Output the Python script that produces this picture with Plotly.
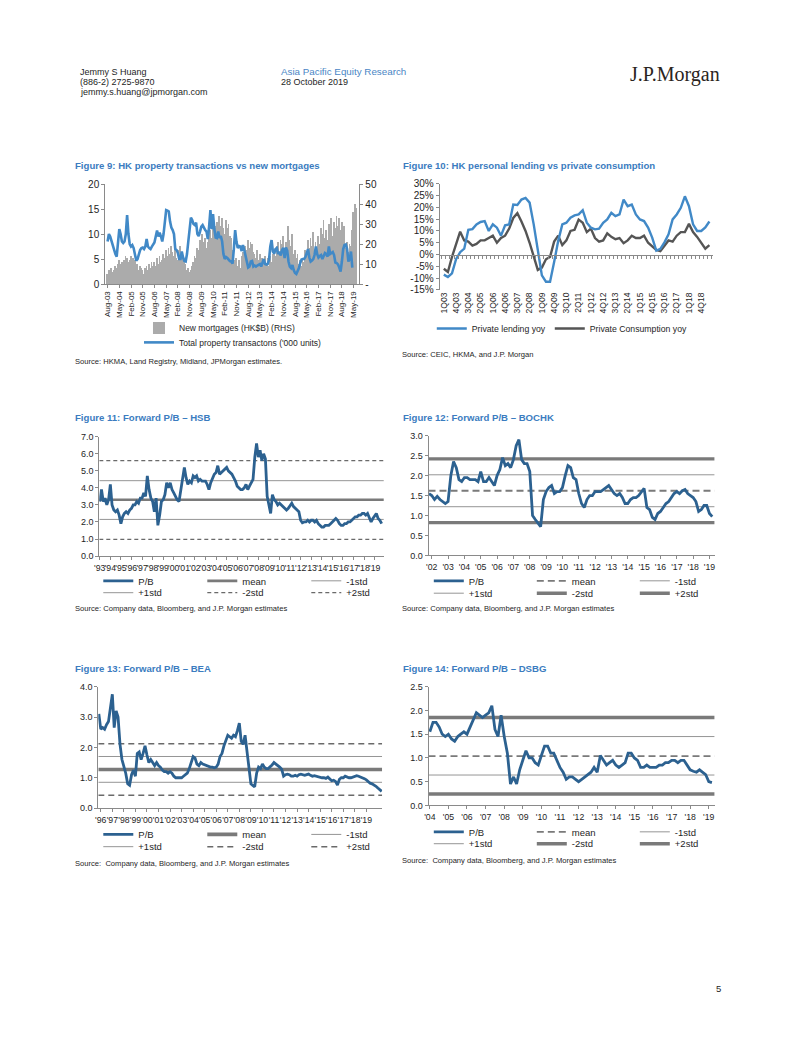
import numpy as np
import pandas as pd
import plotly.graph_objects as go

W, H = 802, 1037
FONT = "Liberation Sans, Arial, Helvetica, sans-serif"
SERIF = "Liberation Serif, Times New Roman, serif"
TXT = "#1e1e1e"
AX = "#8a8a8a"
TITLE_BLUE = "#3b7cc0"
PB_BLUE = "#2c6190"
LINE_BLUE = "#4189c7"
DARK = "#555555"

# ---------------- Figure 9 data (monthly, from Aug-03) ----------------
fig9_start = "2003-08-01"
new_mortgages = [
    5, 7, 6, 8, 6, 7, 9, 8, 10,
    12, 10, 11, 9, 12, 14, 13, 11, 12,
    14, 11, 13, 12, 9, 10, 7, 9, 8,
    7, 5, 8, 9, 7, 10, 8, 11, 9,
    11, 9, 13, 10, 14, 11, 12, 15, 13,
    17, 14, 18, 15, 19, 16, 14, 17, 13,
    12, 17, 19, 15, 14, 11, 10, 7, 8,
    6, 7, 9, 11, 14, 13, 18, 17, 22,
    19, 25, 21, 23, 18, 21, 24, 27, 23,
    28, 26, 29, 31, 27, 34, 29, 33, 28,
    25, 32, 28, 30, 24, 23, 17, 16, 12,
    13, 9, 12, 8, 14, 16, 15, 19, 17,
    22, 18, 21, 20, 16, 15, 13, 17, 12,
    15, 11, 13, 12, 14, 10, 13, 9, 14,
    11, 15, 17, 14, 19, 21, 16, 22, 20,
    24, 18, 21, 17, 29, 22, 19, 25, 15,
    17, 13, 15, 10, 12, 9, 13, 11, 17,
    15, 22, 18, 23, 19, 26, 17, 21, 18,
    24, 20, 28, 25, 32, 23, 27, 22, 30,
    26, 33, 24, 31, 28, 34, 29, 33, 27,
    31, 24, 29, 18, 21, 16, 20, 19, 27,
    36, 40, 38,
]
property_transactions = [
    8.5, 10.0, 9.5, 8.5, 7.8, 7.0, 6.0, 5.5, 8.5,
    11.0, 10.0, 8.5, 8.2, 8.5, 10.0, 13.8, 10.0, 8.0,
    7.5, 7.8, 7.2, 5.5, 4.7, 5.0, 6.0, 6.8, 7.2,
    7.3, 7.0, 7.5, 9.0, 7.5, 7.2, 7.0, 7.5, 7.8,
    8.3, 9.5, 10.7, 9.5, 10.3, 9.5, 8.5, 10.0, 12.0,
    14.8, 14.7, 14.5, 12.5, 11.3, 10.8, 10.0, 7.0, 6.8,
    6.2, 5.0, 5.0, 6.5, 5.3, 4.6, 4.5, 6.0, 8.5,
    10.5, 13.3, 12.8, 12.0, 11.8, 12.3, 10.0, 9.6, 10.5,
    11.5, 11.8, 11.2, 10.8, 10.5, 9.0, 11.5, 14.8, 11.0,
    14.0, 11.0, 9.3, 9.2, 10.5, 9.2, 9.6, 8.5, 6.0,
    5.0, 5.4, 5.2, 4.8, 4.6, 4.5, 4.1, 7.0, 10.8,
    8.5, 7.2, 7.6, 7.5, 6.6, 7.8, 6.8, 5.6, 4.5,
    3.3, 3.5, 4.5, 4.6, 3.5, 3.7, 3.5, 3.7, 3.9,
    4.0, 3.5, 4.3, 5.0, 4.0, 3.9, 4.0, 4.8, 7.5,
    8.8, 6.5, 6.1, 7.0, 7.2, 6.0, 6.5, 5.7, 6.8,
    7.2, 5.2, 7.3, 6.7, 4.5, 3.5, 3.2, 3.8, 2.8,
    2.2, 2.0, 2.5, 3.2, 4.2, 4.9, 5.0, 5.0, 5.4,
    6.5, 7.0, 5.3, 4.5, 4.7, 5.0, 5.8, 7.5, 6.0,
    5.3, 5.6, 5.8, 5.0, 5.8, 6.2, 6.0, 5.5, 7.5,
    6.0, 6.2, 6.4, 5.8, 4.3, 4.2, 3.9, 3.3, 2.5,
    4.5, 7.0, 7.8, 7.9, 7.0, 4.5, 5.0, 6.5, 3.3,
]
fig9_months = pd.date_range(fig9_start, periods=len(new_mortgages), freq="MS")
fig9_labels = [d.strftime("%b-%y") for d in fig9_months]
fig9_label_step = 9

# ---------------- Figure 10 data (quarterly, from 1Q03) ----------------
private_lending = [
    -8.5, -9.5, -8.0, -2.0, 1.0, 2.5, 10.5, 10.8, 12.8, 13.8, 14.2,
    10.0, 12.8, 11.4, 8.0, 12.4, 12.8, 21.2, 21.0, 23.3, 24.0, 22.0,
    12.8, 1.0, -8.8, -11.5, -11.5, -3.2, 5.8, 12.8, 13.5, 15.6, 16.6,
    17.0, 18.8, 13.5, 11.4, 10.7, 11.0, 13.5, 14.9, 17.7, 16.3, 17.0,
    23.3, 20.5, 21.2, 17.0, 14.9, 14.2, 11.4, 7.2, 1.7, 2.4, 5.2,
    8.6, 14.9, 17.0, 19.8, 24.7, 20.5, 12.8, 10.0, 10.0, 11.5, 14.0,
]
private_consumption = [
    -6.0, -7.4, -1.0, 4.0, 9.7, 6.0, 5.5, 3.8, 4.5, 6.0, 6.0,
    7.0, 8.0, 5.0, 7.0, 8.0, 11.0, 15.5, 17.5, 14.0, 10.0, 5.0,
    -1.0, -6.5, -5.5, -2.0, -1.0, 5.5, 8.0, 4.0, 6.0, 10.0, 10.5,
    14.8, 13.5, 9.5, 11.0, 7.0, 5.5, 6.0, 9.0, 7.5, 6.5, 7.0,
    4.8, 6.0, 8.0, 7.0, 7.0, 8.0, 5.0, 3.5, 2.0, 1.5, 4.0,
    6.0, 5.5, 8.0, 9.5, 9.5, 13.0, 9.5, 7.5, 5.0, 2.5, 4.0,
]
fig10_quarters = [f"{p.quarter}Q{p.year % 100:02d}"
                  for p in pd.period_range("2003Q1", periods=len(private_lending), freq="Q")]
fig10_label_step = 3

# ---------------- Forward P/B data (bi-monthly) ----------------
band_names = ["mean", "-1std", "+1std", "-2std", "+2std"]

hsb_start = "1993-01-01"
hsb_pb = [
    3.2, 3.9, 3.2, 3.4, 3.0, 3.3,
    4.2, 3.0, 2.7, 2.6, 2.7, 2.4,
    1.9, 2.3, 2.5, 2.6, 2.5, 2.7,
    2.8, 3.0, 3.0, 3.2, 3.1, 3.4,
    3.4, 3.7, 3.5, 4.7, 3.9, 3.4,
    3.2, 2.6, 3.4, 1.8, 2.4, 3.2,
    3.3, 3.6, 4.3, 4.0, 4.3, 3.9,
    3.7, 3.5, 3.3, 3.2, 3.9, 4.4,
    5.2, 4.6, 4.2, 4.4, 4.3, 4.7,
    4.6, 4.7, 4.4, 4.5, 4.4, 4.4,
    4.4, 4.2, 3.9, 4.3, 4.6, 4.8,
    4.9, 5.3, 4.8, 4.9, 5.0, 5.1,
    5.2, 5.0, 4.9, 4.8, 4.6, 4.4,
    4.1, 4.0, 3.9, 3.9, 4.0, 4.2,
    3.9, 4.1, 4.3, 4.5, 5.8, 6.6,
    5.8, 6.2, 5.6, 6.0, 5.7, 3.5,
    3.0, 2.5, 3.6, 3.3, 3.2, 3.0,
    3.1, 3.0, 2.9, 2.8, 2.7, 2.8,
    3.0, 3.1, 2.9, 2.8, 2.7, 2.6,
    2.1, 1.95, 2.0, 2.0, 2.1, 2.0,
    2.1, 2.1, 2.0, 2.1, 1.9, 1.8,
    1.7, 1.7, 1.8, 1.8, 1.8, 1.9,
    2.0, 2.1, 2.2, 2.1, 1.9, 1.8,
    1.8, 1.9, 1.9, 2.0, 2.0, 2.1,
    2.2, 2.3, 2.3, 2.4, 2.4, 2.5,
    2.5, 2.4, 2.5, 2.3, 2.0, 2.2,
    2.4, 2.5, 2.2, 2.1, 1.9,
]
hsb_bands = [3.30, 2.15, 4.42, 0.98, 5.60]
hsb_years = list(range(1993, 2020))

bochk_start = "2002-05-01"
bochk_pb = [
    1.55, 1.5, 1.4, 1.48,
    1.4, 1.35, 1.3, 1.35, 2.0, 2.35,
    2.2, 1.9, 1.85, 1.95, 1.95, 1.9,
    1.9, 1.9, 1.85, 2.1, 1.85, 1.85,
    1.95, 1.85, 1.75, 2.0, 2.15, 2.45,
    2.25, 2.3, 2.2, 2.4, 2.75, 2.9,
    2.4, 2.3, 2.3, 2.1, 1.0, 0.9,
    0.8, 0.72, 1.4, 1.6, 1.7, 1.75,
    1.55, 1.6, 1.6, 1.7, 2.0, 2.25,
    2.2, 1.95, 1.9, 1.55, 1.3, 1.2,
    1.4, 1.5, 1.5, 1.6, 1.6, 1.6,
    1.65, 1.7, 1.75, 1.65, 1.55, 1.5,
    1.55, 1.45, 1.3, 1.3, 1.4, 1.45,
    1.45, 1.5, 1.6, 1.68, 1.2, 1.15,
    0.95, 0.9, 1.05, 1.1, 1.2, 1.3,
    1.35, 1.45, 1.55, 1.6, 1.55, 1.62,
    1.65, 1.55, 1.5, 1.45, 1.35, 1.1,
    1.15, 1.25, 1.25, 1.05, 0.97,
]
bochk_bands = [1.62, 1.22, 2.02, 0.82, 2.42]
bochk_years = list(range(2002, 2020))

bea_start = "1995-11-01"
bea_pb = [
    3.1, 2.6, 2.65, 2.6, 2.75, 2.85, 3.3, 3.75, 2.65, 3.2,
    3.0, 2.1, 1.6, 1.4, 1.15, 0.8, 0.75, 1.1, 1.25, 1.05,
    1.8, 1.85, 1.6, 1.8, 2.05, 1.75, 1.5, 1.6, 1.5, 1.4,
    1.5, 1.4, 1.35, 1.25, 1.2, 1.2, 1.15, 1.2, 1.15, 1.05,
    1.0, 1.0, 0.98, 1.0, 1.05, 1.1, 1.15, 1.3, 1.55, 1.7,
    1.65, 1.45, 1.4, 1.5, 1.45, 1.42, 1.4, 1.38, 1.35, 1.35,
    1.33, 1.35, 1.45, 1.7, 1.8, 2.05, 2.2, 2.4, 2.35, 2.3,
    2.4, 2.35, 2.55, 2.8, 2.2, 2.1, 2.4, 1.8, 1.2, 0.8,
    0.75, 0.7, 1.15, 1.35, 1.3, 1.45, 1.35, 1.3, 1.3, 1.35,
    1.42, 1.5, 1.45, 1.42, 1.35, 1.28, 1.05, 1.1, 1.12, 1.1,
    1.05, 1.05, 1.08, 1.05, 1.1, 1.12, 1.1, 1.08, 1.1, 1.12,
    1.08, 1.05, 1.07, 1.05, 1.05, 1.03, 1.0, 1.0, 0.98, 1.02,
    0.96, 0.9, 0.92, 0.88, 0.76, 0.95, 1.0, 1.0, 1.05, 1.02,
    1.0, 1.0, 1.02, 1.05, 1.07, 1.05, 1.03, 1.0, 0.97, 0.93,
    0.86, 0.82, 0.8, 0.77, 0.72, 0.66, 0.6, 0.55,
]
bea_bands = [1.27, 0.85, 1.70, 0.42, 2.12]
bea_years = list(range(1996, 2020))

dsbg_start = "2004-07-01"
dsbg_pb = [
    1.55, 1.75, 1.75,
    1.65, 1.5, 1.45, 1.5, 1.4, 1.35,
    1.45, 1.5, 1.55, 1.5, 1.65, 1.8,
    1.95, 1.9, 1.85, 1.9, 1.95, 2.1,
    1.6, 1.45, 1.9, 1.45, 1.1, 0.45,
    0.6, 0.45, 0.75, 0.95, 1.15, 1.0,
    1.0, 0.9, 0.85, 1.05, 1.25, 1.25,
    1.1, 1.1, 0.95, 0.8, 0.7, 0.55,
    0.6, 0.6, 0.55, 0.5, 0.55, 0.6,
    0.65, 0.7, 0.8, 0.7, 1.05, 0.95,
    0.85, 0.9, 0.95, 0.85, 0.8, 0.85,
    0.9, 1.1, 1.1, 1.0, 0.95, 0.8,
    0.8, 0.85, 0.8, 0.8, 0.8, 0.85,
    0.85, 0.9, 0.9, 0.95, 0.95, 0.9,
    0.95, 0.95, 0.85, 0.75, 0.72, 0.7,
    0.75, 0.7, 0.65, 0.5, 0.48,
]
dsbg_bands = [1.04, 0.64, 1.45, 0.24, 1.85]
dsbg_years = list(range(2004, 2020))


# ---------------- helpers ----------------
def xdom(a, b):
    return [a / W, b / W]


def ydom(top, bot):
    return [1 - bot / H, 1 - top / H]


def axstyle(**kw):
    d = dict(showline=True, linecolor=AX, linewidth=1, ticks="outside", tickcolor=AX,
             ticklen=3, tickwidth=1, showgrid=False, zeroline=False, fixedrange=True,
             tickfont=dict(family=FONT, size=9, color=TXT))
    d.update(kw)
    return d


def legend_at(xpx, ypx, entry=None, size=9.5):
    d = dict(x=xpx / W, y=1 - ypx / H, xanchor="left", yanchor="middle", orientation="h",
             bgcolor="rgba(0,0,0,0)", borderwidth=0, itemwidth=30, tracegroupgap=0,
             font=dict(family=FONT, size=size, color=TXT))
    if entry is not None:
        d.update(entrywidth=entry, entrywidthmode="pixels")
    return d


fig = go.Figure()

# ---------------- Figure 9 ----------------
m_idx = list(range(len(new_mortgages)))
fig.add_trace(go.Bar(x=m_idx, y=new_mortgages, xaxis="x", yaxis="y", width=0.6,
                     marker=dict(color="#ababab", line=dict(width=0)),
                     name="New mortgages (HK$B) (RHS)", legend="legend", hoverinfo="skip"))
fig.add_trace(go.Scatter(x=m_idx[:len(property_transactions)], y=property_transactions,
                         xaxis="x", yaxis="y2", mode="lines",
                         line=dict(color=LINE_BLUE, width=2.6),
                         name="Total property transactons ('000 units)", legend="legend2",
                         hoverinfo="skip"))

# ---------------- Figure 10 ----------------
q_idx = list(range(len(private_lending)))
fig.add_trace(go.Scatter(x=q_idx, y=private_consumption, xaxis="x2", yaxis="y3", mode="lines",
                         line=dict(color=DARK, width=2.4), name="Private Consumption yoy",
                         legend="legend3", legendrank=2, legendwidth=120, hoverinfo="skip"))
fig.add_trace(go.Scatter(x=q_idx, y=private_lending, xaxis="x2", yaxis="y3", mode="lines",
                         line=dict(color=LINE_BLUE, width=2.4), name="Private lending yoy",
                         legend="legend3", legendrank=1, hoverinfo="skip"))
# carrier trace for the zero-line category axis
fig.add_trace(go.Scatter(x=[q_idx[0]], y=[0], xaxis="x3", yaxis="y3", mode="lines",
                         showlegend=False, hoverinfo="skip", line=dict(width=0)))


# ---------------- Forward P/B charts ----------------
def add_pb(n, start, values, bands, styles, rng, legA, legB):
    dates = pd.date_range(start, periods=len(values), freq="2MS")
    ranks = {"mean": 2, "-1std": 3, "+1std": 1, "-2std": 2, "+2std": 3}
    for name, val in zip(band_names, bands):
        leg = legA if name in ("mean", "-1std") else legB
        extra = {"legendwidth": 70} if name in ("-1std", "+2std") else {}
        fig.add_trace(go.Scatter(x=rng, y=[val, val], xaxis=f"x{n}", yaxis=f"y{n}",
                                 mode="lines", line=styles[name], name=name, legend=leg,
                                 legendrank=ranks[name], hoverinfo="skip", **extra))
    fig.add_trace(go.Scatter(x=dates, y=values, xaxis=f"x{n}", yaxis=f"y{n}", mode="lines",
                             line=dict(color=PB_BLUE, width=2.8), name="P/B", legend=legA,
                             legendrank=1, hoverinfo="skip"))


thin = dict(color="#959595", width=1)
style_a = {  # HSB
    "mean": dict(color="#7a7a7a", width=2.6),
    "-1std": thin, "+1std": thin,
    "-2std": dict(color="#6a6a6a", width=1.2, dash="4px,3px"),
    "+2std": dict(color="#6a6a6a", width=1.2, dash="4px,3px"),
}
style_b = {  # BOCHK / DSBG
    "mean": dict(color="#7a7a7a", width=1.8, dash="7px,4px"),
    "-1std": thin, "+1std": thin,
    "-2std": dict(color="#7a7a7a", width=3.4),
    "+2std": dict(color="#7a7a7a", width=3.4),
}
style_c = {  # BEA
    "mean": dict(color="#7a7a7a", width=3.6),
    "-1std": thin, "+1std": thin,
    "-2std": dict(color="#6a6a6a", width=1.5, dash="6px,4px"),
    "+2std": dict(color="#6a6a6a", width=1.5, dash="6px,4px"),
}

hsb_rng = ["1992-12-15", "2019-11-15"]
bochk_rng = ["2002-04-20", "2019-10-25"]
bea_rng = ["1995-10-15", "2020-05-15"]
dsbg_rng = ["2004-06-05", "2019-10-25"]

add_pb(4, hsb_start, hsb_pb, hsb_bands, style_a, hsb_rng, "legend4", "legend5")
add_pb(5, bochk_start, bochk_pb, bochk_bands, style_b, bochk_rng, "legend6", "legend7")
add_pb(6, bea_start, bea_pb, bea_bands, style_c, bea_rng, "legend8", "legend9")
add_pb(7, dsbg_start, dsbg_pb, dsbg_bands, style_b, dsbg_rng, "legend10", "legend11")


def year_ticks(years, month):
    return [f"{y}-{month:02d}-01" for y in years], [f"'{y % 100:02d}" for y in years]


# ---------------- layout ----------------
f9_ticks = list(range(0, len(fig9_labels), fig9_label_step))
f10_ticks = list(range(0, len(fig10_quarters) - 1, fig10_label_step))
zero_px = 180.7 + (30 / 45) * (288 - 180.7)

layout = dict(
    width=W, height=H, margin=dict(l=0, r=0, t=0, b=0),
    paper_bgcolor="white", plot_bgcolor="rgba(0,0,0,0)", showlegend=True,
    font=dict(family=FONT, color=TXT), bargap=0,
    # Figure 9
    xaxis=axstyle(domain=xdom(101, 357), anchor="y", range=[-1.8, 193.4], tickmode="array",
                  tickvals=f9_ticks, ticktext=[fig9_labels[i] for i in f9_ticks], tickangle=-90,
                  tickfont=dict(family=FONT, size=8, color=TXT)),
    yaxis=axstyle(domain=ydom(181, 282), anchor="x", side="right", range=[0, 50],
                  tickvals=[0, 10, 20, 30, 40, 50], ticktext=["-", "10", "20", "30", "40", "50"],
                  tickfont=dict(family=FONT, size=10, color=TXT)),
    yaxis2=axstyle(overlaying="y", anchor="x", side="left", range=[0, 20],
                   tickvals=[0, 5, 10, 15, 20], tickfont=dict(family=FONT, size=10, color=TXT)),
    # Figure 10
    xaxis2=axstyle(domain=xdom(438, 713), anchor="y3", range=[-1, 65.8], tickmode="array",
                   tickvals=f10_ticks, ticktext=[fig10_quarters[i] for i in f10_ticks],
                   tickangle=-90, showline=False, ticks="",
                   tickfont=dict(family=FONT, size=8.5, color=TXT)),
    xaxis3=axstyle(overlaying="x2", anchor="free", position=1 - zero_px / H, range=[-1, 65.8],
                   tickmode="linear", tick0=-0.5, dtick=1, showticklabels=False, ticklen=3),
    yaxis3=axstyle(domain=ydom(180.7, 288), anchor="x2", range=[-15, 30],
                   tickvals=list(range(-15, 31, 5)), ticktext=[f"{v}%" for v in range(-15, 31, 5)],
                   tickfont=dict(family=FONT, size=10, color=TXT)),
)

pb_axes = [
    (4, xdom(95, 381.7), ydom(436.3, 557), hsb_rng, hsb_years, 1, [0, 7], 1.0),
    (5, xdom(426.7, 715), ydom(435.3, 556.3), bochk_rng, bochk_years, 7, [0, 3], 0.5),
    (6, xdom(94, 380), ydom(689, 811.7), bea_rng, bea_years, 1, [0, 4], 1.0),
    (7, xdom(426.7, 715), ydom(689, 809), dsbg_rng, dsbg_years, 7, [0, 2.5], 0.5),
]
for n, xd, yd, rng, years, month, yr, dt in pb_axes:
    tv, tt = year_ticks(years, month)
    layout[f"xaxis{n}"] = axstyle(domain=xd, anchor=f"y{n}", type="date", range=rng,
                                  tickmode="array", tickvals=tv, ticktext=tt, tickangle=0,
                                  tickfont=dict(family=FONT, size=8.7, color=TXT))
    layout[f"yaxis{n}"] = axstyle(domain=yd, anchor=f"x{n}", range=yr, tickmode="linear",
                                  tick0=0, dtick=dt, tickformat=".1f")

# legends
layout["legend"] = legend_at(135, 326.5, size=8.5)
layout["legend2"] = legend_at(135, 341, size=8.5)
layout["legend3"] = legend_at(430, 327, entry=73, size=8.7)
layout["legend4"] = legend_at(94, 582, entry=59)
layout["legend5"] = legend_at(94, 594, entry=59)
layout["legend6"] = legend_at(427, 582, entry=58)
layout["legend7"] = legend_at(427, 594.5, entry=58)
layout["legend8"] = legend_at(94, 838.3, entry=59)
layout["legend9"] = legend_at(94, 850.7, entry=59)
layout["legend10"] = legend_at(427, 835.7, entry=58)
layout["legend11"] = legend_at(427, 847.7, entry=58)

# text annotations
ann = []


def text(x, y, s, size, color=TXT, bold=False, family=FONT, xanchor="left"):
    ann.append(dict(x=x / W, y=1 - y / H, xref="paper", yref="paper",
                    text=f"<b>{s}</b>" if bold else s, showarrow=False, xanchor=xanchor,
                    yanchor="middle", borderpad=0, font=dict(size=size, color=color, family=family)))


text(75, 68, "Jemmy S Huang", 9)
text(75, 78, "(886-2) 2725-9870", 9)
text(75, 88, "jemmy.s.huang@jpmorgan.com", 9)
text(277, 67, "Asia Pacific Equity Research", 9.8, color="#4a86c5")
text(277, 78, "28 October 2019", 9)
text(721, 70, "J.P.Morgan", 20, color="#2a2420", family=SERIF, xanchor="right")

text(70, 162, "Figure 9: HK property transactions vs new mortgages", 9.6, color=TITLE_BLUE, bold=True)
text(400, 162, "Figure 10: HK personal lending vs private consumption", 9.6, color=TITLE_BLUE, bold=True)
text(70, 417, "Figure 11: Forward P/B \u2013 HSB", 9.6, color=TITLE_BLUE, bold=True)
text(400, 417, "Figure 12: Forward P/B \u2013 BOCHK", 9.6, color=TITLE_BLUE, bold=True)
text(70, 671, "Figure 13: Forward P/B \u2013 BEA", 9.6, color=TITLE_BLUE, bold=True)
text(400, 671, "Figure 14: Forward P/B \u2013 DSBG", 9.6, color=TITLE_BLUE, bold=True)

text(70, 360, "Source: HKMA, Land Registry, Midland, JPMorgan estimates.", 7.6)
text(399, 353, "Source: CEIC, HKMA, and J.P. Morgan", 7.6)
text(70, 610, "Source: Company data, Bloomberg, and J.P. Morgan estimates", 7.6)
text(399, 610, "Source: Company data, Bloomberg, and J.P. Morgan estimates", 7.6)
text(70, 868, "Source:  Company data, Bloomberg, and J.P. Morgan estimates", 7.6)
text(399, 865, "Source:  Company data, Bloomberg, and J.P. Morgan estimates", 7.6)

text(722, 994, "5", 9.5, xanchor="right")

layout["annotations"] = ann
fig.update_layout(**layout)

fig.write_html("out.html", config={"displayModeBar": False})
